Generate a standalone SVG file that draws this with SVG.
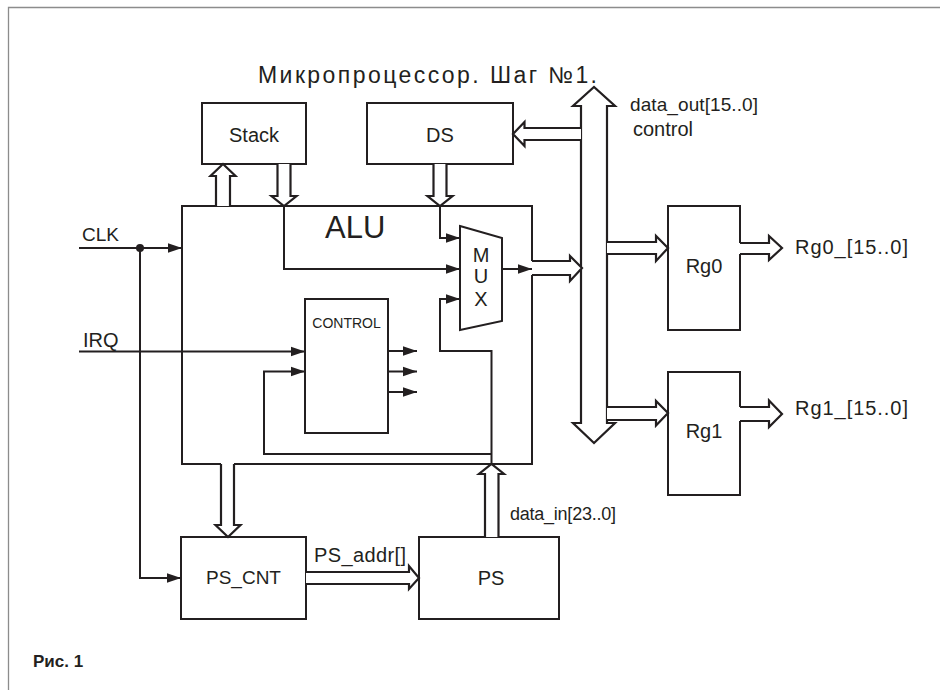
<svg xmlns="http://www.w3.org/2000/svg" width="940" height="690" viewBox="0 0 940 690">
<style>
.ln{fill:none;stroke:#231f20;stroke-width:2;stroke-linejoin:miter}
.box{fill:#fff;stroke:#231f20;stroke-width:2}
.ha{fill:#fff;stroke:#231f20;stroke-width:2.2;stroke-linejoin:miter}
.t{font-family:"Liberation Sans",Arial,sans-serif;fill:#231f20}
.c{text-anchor:middle}
</style>
<defs>
<marker id="ah" markerWidth="15" markerHeight="11" refX="14" refY="5.5" orient="auto" markerUnits="userSpaceOnUse">
<path d="M0,0.8 L14,5.5 L0,10.2 z" fill="#231f20"/>
</marker>
</defs>
<rect width="940" height="690" fill="#fff"/>
<path d="M8.5,690 V7.5 H940" fill="none" stroke="#8c8c8c" stroke-width="1.3"/>
<text class="t" x="258" y="83" font-size="23" textLength="339" lengthAdjust="spacing">Микропроцессор. Шаг №1.</text>
<text x="33" y="667" font-family="Liberation Sans,Arial,sans-serif" font-weight="bold" font-size="17" fill="#231f20">Рис. 1</text>

<g id="stack">
<rect class="box" x="202" y="103" width="104" height="61"/>
<text class="t c" x="254" y="142" font-size="20">Stack</text>
</g>
<g id="ds">
<rect class="box" x="367" y="103" width="146" height="61"/>
<text class="t c" x="440" y="142" font-size="20">DS</text>
</g>
<g id="alu">
<path class="ln" d="M221,464 H182 V206 H532 V261 M532,275 V464 H234"/>
<text class="t" x="325" y="238" font-size="31">ALU</text>
</g>
<g id="mux">
<polygon class="box" points="460,226 502,238 502,321 460,330"/>
<text class="t c" x="481" y="261.5" font-size="20">M</text>
<text class="t c" x="481" y="283" font-size="20">U</text>
<text class="t c" x="481" y="306" font-size="20">X</text>
</g>
<g id="control">
<rect class="box" x="305" y="299" width="83" height="134"/>
<text class="t c" x="346.5" y="328" font-size="14">CONTROL</text>
</g>
<g id="bus">
<path class="ha" d="M581,106 H573 L594,87 L615,106 H607 V423 H615 L594,443 L573,423 H581 Z"/>
<text class="t" x="630" y="111" font-size="19" textLength="128" lengthAdjust="spacing">data_out[15..0]</text>
<text class="t" x="633" y="136" font-size="20">control</text>
</g>
<g id="rg0">
<path class="ln" d="M740,243 V206 H668 V330 H740 V254"/>
<text class="t c" x="704" y="273" font-size="20">Rg0</text>
</g>
<g id="rg1">
<path class="ln" d="M740,407 V372 H668 V495 H740 V421"/>
<text class="t c" x="704" y="438" font-size="20">Rg1</text>
</g>
<g id="ps_cnt">
<rect class="box" x="181" y="537" width="125" height="82"/>
<text class="t c" x="243.5" y="584" font-size="19">PS_CNT</text>
</g>
<g id="ps">
<rect class="box" x="419" y="537" width="140" height="82"/>
<text class="t c" x="491" y="585" font-size="20">PS</text>
</g>

<g id="connectors">
<path class="ha" d="M216,206 V176 H210.5 L223,164 L235.5,176 H230 V206"/>
<path class="ha" d="M277.5,164 V196 H271.5 L284,206 L296.5,196 H290.5 V164"/>
<path class="ha" d="M433.5,164 V196 H427.5 L440,206 L452.5,196 H446.5 V164"/>
<path class="ha" d="M581,128 H524.5 V122 L513,134 L524.5,146 V140 H581"/>
<path class="ha" d="M532,261 H570 V256 L582,268 L570,281 V275 H532"/>
<path class="ha" d="M607,242 H656 V236 L668,248 L656,261 V254 H607"/>
<path class="ha" d="M607,407 H656 V401 L668,413 L656,425.5 V420 H607"/>
<path class="ha" d="M740,243 H769 V236 L782,248 L769,260 V254 H740"/>
<path class="ha" d="M740,407 H769 V400.5 L782,414 L769,427 V421 H740"/>
<path class="ha" d="M221,464 V525 H215.5 L228,537 L240.5,525 H234 V464"/>
<path class="ha" d="M485,537 V474 H479 L491.5,464 L504,474 H498.5 V537"/>
<path class="ha" d="M306,572 H409 V566 L419,578 L409,589 V584 H306"/>
<path class="ln" d="M79,248 H182" marker-end="url(#ah)"/>
<circle cx="140" cy="248" r="4" fill="#231f20"/>
<path class="ln" d="M140,248 V578 H181" marker-end="url(#ah)"/>
<path class="ln" d="M79,351.5 H305" marker-end="url(#ah)"/>
<path class="ln" d="M284,206 V269 H460" marker-end="url(#ah)"/>
<path class="ln" d="M440,206 V238 H460" marker-end="url(#ah)"/>
<path class="ln" d="M502,269 H532" marker-end="url(#ah)"/>
<path class="ln" d="M491.5,464 V351 H440 V299 H460" marker-end="url(#ah)"/>
<path class="ln" d="M491.5,454 H264 V371.5 H305" marker-end="url(#ah)"/>
<path class="ln" d="M388,351 H417" marker-end="url(#ah)"/>
<path class="ln" d="M388,371.5 H417" marker-end="url(#ah)"/>
<path class="ln" d="M388,392 H417" marker-end="url(#ah)"/>
</g>

<text class="t" x="82" y="241" font-size="19">CLK</text>
<text class="t" x="83" y="346.5" font-size="20">IRQ</text>
<text class="t" x="510" y="520" font-size="18" textLength="106" lengthAdjust="spacing">data_in[23..0]</text>
<text class="t" x="314" y="561.5" font-size="20" textLength="92" lengthAdjust="spacing">PS_addr[]</text>
<text class="t" x="795" y="253.5" font-size="20" textLength="113" lengthAdjust="spacing">Rg0_[15..0]</text>
<text class="t" x="795" y="415" font-size="20" textLength="113" lengthAdjust="spacing">Rg1_[15..0]</text>
</svg>
